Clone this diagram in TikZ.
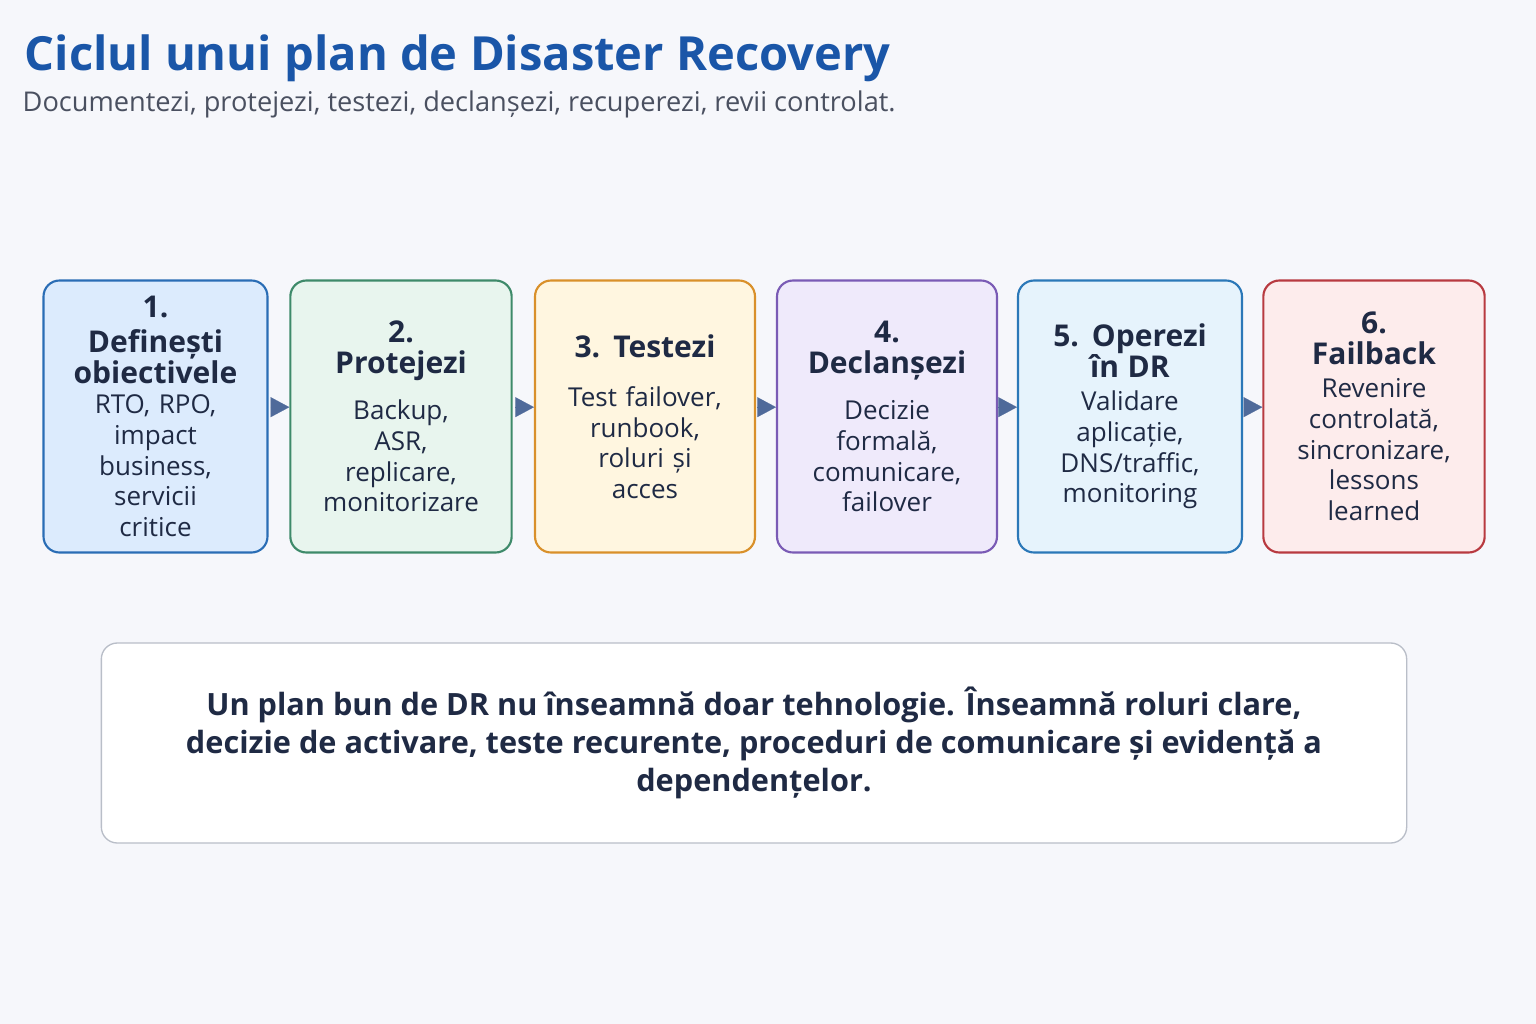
\documentclass[tikz,border=0pt]{standalone}
\usepackage{fontspec}
\setmainfont{Open Sans}
\usetikzlibrary{arrows.meta}
\definecolor{bg}{HTML}{F6F7FB}
\definecolor{ttl}{HTML}{1A56A8}
\definecolor{txt}{HTML}{1F2A44}
\definecolor{sub}{HTML}{4A5060}
\definecolor{arr}{HTML}{4F6A9A}
\definecolor{c1}{HTML}{2A6DB5}\definecolor{c2}{HTML}{3E8A6A}\definecolor{c3}{HTML}{D9902A}\definecolor{c4}{HTML}{7A5BB5}\definecolor{c5}{HTML}{2B78B8}\definecolor{c6}{HTML}{B83A40}
\definecolor{f1}{HTML}{DCEBFD}\definecolor{f2}{HTML}{E8F5EE}\definecolor{f3}{HTML}{FFF6E0}\definecolor{f4}{HTML}{EFEAFB}\definecolor{f5}{HTML}{E6F3FC}\definecolor{f6}{HTML}{FDECEC}
\definecolor{mb}{HTML}{B9BEC8}
\newcommand\myhd{\fontsize{22.5}{26}\selectfont\bfseries}
\begin{document}
\begin{tikzpicture}[x=0.75pt,y=-0.75pt,
 step/.style={draw=#1,line width=1.6pt,rounded corners=12pt,minimum height=204pt,text width=158pt,align=center,text=txt,font=\fontsize{19.5}{23}\selectfont},
 con/.style={draw=arr,line width=0.1pt,-{Triangle[length=14pt,width=15pt]},fill=arr,shorten <=3pt}]
\fill[bg] (0,0) rectangle (1536,1024);
\useasboundingbox (0,0) rectangle (1536,1024);
\node[anchor=west,text=ttl,font=\fontsize{35.3}{42}\selectfont\bfseries] (t) at (20,58) {Ciclul unui plan de Disaster Recovery};
\node[anchor=west,text=sub,font=\fontsize{20.4}{24}\selectfont] (s) at (18,104) {Documentezi, protejezi, testezi, declanșezi, recuperezi, revii controlat.};
\node[step=c1,fill=f1,minimum width=168pt] (b1) at (155.5,416.5) {{\myhd 1.\\ Definești\\ obiectivele}\\ RTO, RPO,\\ impact\\ business,\\ servicii\\ critice};
\node[step=c2,fill=f2,minimum width=166pt] (b2) at (401,416.5) {{\myhd 2.\\ Protejezi}\\[12pt] Backup,\\ ASR,\\ replicare,\\ monitorizare};
\node[step=c3,fill=f3,minimum width=165pt] (b3) at (645,416.5) {{\myhd 3. Testezi}\\[14pt] Test failover,\\ runbook,\\ roluri și\\ acces};
\node[step=c4,fill=f4,minimum width=165pt] (b4) at (887,416.5) {{\myhd 4.\\ Declanșezi}\\[12pt] Decizie\\ formală,\\ comunicare,\\ failover};
\node[step=c5,fill=f5,minimum width=168pt] (b5) at (1130,416.5) {{\myhd 5. Operezi\\ în DR}\\[2pt] Validare\\ aplicație,\\ DNS/traffic,\\ monitoring};
\node[step=c6,fill=f6,minimum width=166pt] (b6) at (1374,416.5) {{\myhd 6.\\ Failback}\\[2pt] Revenire\\ controlată,\\ sincronizare,\\ lessons\\ learned};
\foreach \a/\b in {b1/b2,b2/b3,b3/b4,b4/b5,b5/b6}{\path[con] ([yshift=7pt]\a.east) -- ([yshift=7pt]\b.west);}
\node[draw=mb,line width=1pt,fill=white,rounded corners=12pt,minimum width=979pt,minimum height=150pt,align=center,text=txt,font=\fontsize{23}{28.5}\selectfont\bfseries] (m) at (754,743) {Un plan bun de DR nu înseamnă doar tehnologie. Înseamnă roluri clare,\\ decizie de activare, teste recurente, proceduri de comunicare și evidență a\\ dependențelor.};
\end{tikzpicture}
\end{document}
